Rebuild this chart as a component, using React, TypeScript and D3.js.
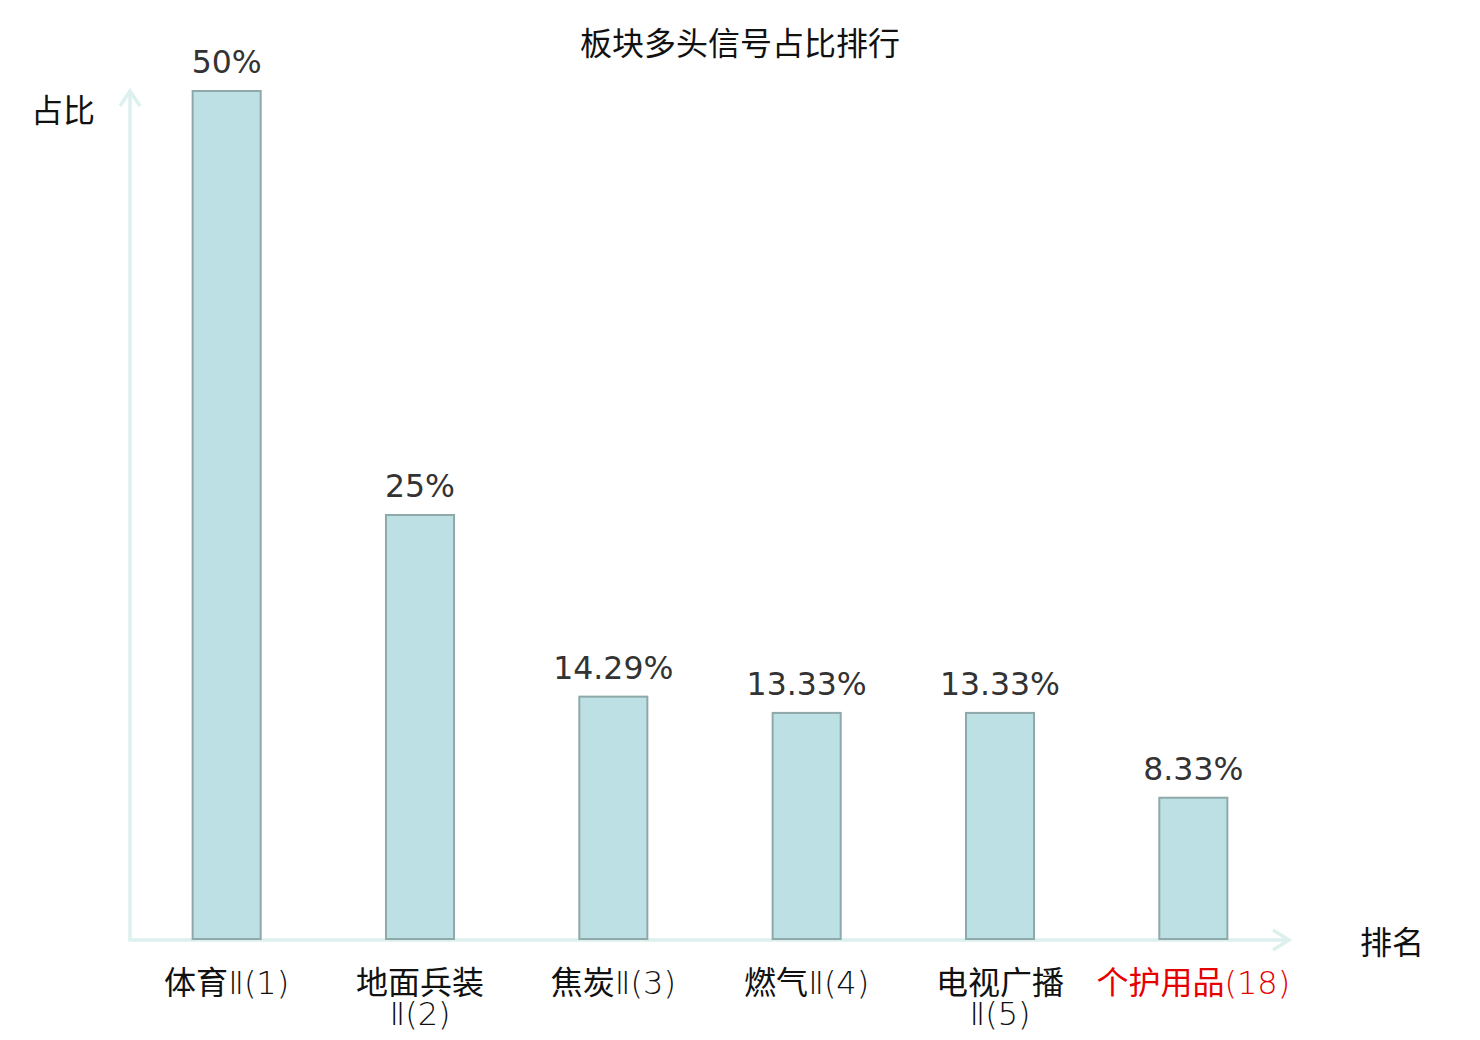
import React from "react";
import * as d3 from "d3";

const categoryNames: string[] = ["体育", "地面兵装", "焦炭", "燃气", "电视广播", "个护用品"];
const categorySuffixes: string[] = ["Ⅱ(1)", "Ⅱ(2)", "Ⅱ(3)", "Ⅱ(4)", "Ⅱ(5)", "(18)"];
const wrapped: boolean[] = [false, true, false, false, true, false];
const values: number[] = [50, 25, 14.29, 13.33, 13.33, 8.33];
const valueLabels: string[] = ["50%", "25%", "14.29%", "13.33%", "13.33%", "8.33%"];
const highlighted: boolean[] = [false, false, false, false, false, true];

const W = 1480;
const H = 1040;
const x0 = 130;
const x1 = 1290;
const yBase = 939;
const yTop = 91;

export default function App() {
  const x = d3
    .scaleBand<number>()
    .domain(values.map((_, i) => i))
    .range([x0, x1])
    .paddingInner(0.648)
    .paddingOuter(0.324);
  const y = d3.scaleLinear().domain([0, 50]).range([yBase, yTop]);
  const cjk = "'Noto Sans CJK SC', sans-serif";
  const mixed = "'DejaVu Sans', 'Noto Sans CJK SC', sans-serif";
  const axisColor = "#dcf0ee";

  return (
    <svg
      width={W}
      height={H}
      style={{ position: "absolute", left: 0, top: 0, background: "#fff" }}
    >
      <text x={740} y={55} textAnchor="middle" fontFamily={cjk} fontSize={32} fill="#111">
        板块多头信号占比排行
      </text>
      {/* axes */}
      <line x1={x0} y1={941} x2={x0} y2={90} stroke={axisColor} strokeWidth={3.5} />
      <polyline
        points={`${x0 - 10},${106} ${x0},${91} ${x0 + 10},${106}`}
        fill="none"
        stroke={axisColor}
        strokeWidth={3.5}
      />
      <line x1={x0 - 1.5} y1={940} x2={1290} y2={940} stroke={axisColor} strokeWidth={3.5} />
      <polyline
        points={`${1273},${930} ${1289},${940} ${1273},${950}`}
        fill="none"
        stroke={axisColor}
        strokeWidth={3.5}
      />
      <text x={63} y={122} textAnchor="middle" fontFamily={cjk} fontSize={32} fill="#111">
        占比
      </text>
      <text x={1392} y={954} textAnchor="middle" fontFamily={cjk} fontSize={32} fill="#111">
        排名
      </text>
      {values.map((v, i) => {
        const bx = x(i)!;
        const bw = x.bandwidth();
        const cx = bx + bw / 2;
        const color = highlighted[i] ? "#e60000" : "#111";
        return (
          <g key={i}>
            <rect
              x={bx}
              y={y(v)}
              width={bw}
              height={yBase - y(v)}
              fill="#bce0e3"
              stroke="#8fa8a9"
              strokeWidth={2}
            />
            <text
              x={cx}
              y={y(v) - 18}
              textAnchor="middle"
              fontFamily="'DejaVu Sans', sans-serif"
              fontSize={31.5}
              fill="#333"
            >
              {valueLabels[i]}
            </text>
            {wrapped[i] ? (
              <>
                <text x={cx} y={994} textAnchor="middle" fontFamily={cjk} fontSize={32} fill={color}>
                  {categoryNames[i]}
                </text>
                <text
                  x={cx}
                  y={1025}
                  textAnchor="middle"
                  fontFamily={mixed}
                  fontWeight={200}
                  fontSize={32}
                  fill={color}
                >
                  {categorySuffixes[i]}
                </text>
              </>
            ) : (
              <text x={cx} y={994} textAnchor="middle" fontSize={32} fill={color}>
                <tspan fontFamily={cjk}>{categoryNames[i]}</tspan>
                <tspan fontFamily={mixed} fontWeight={200}>
                  {categorySuffixes[i]}
                </tspan>
              </text>
            )}
          </g>
        );
      })}
    </svg>
  );
}
